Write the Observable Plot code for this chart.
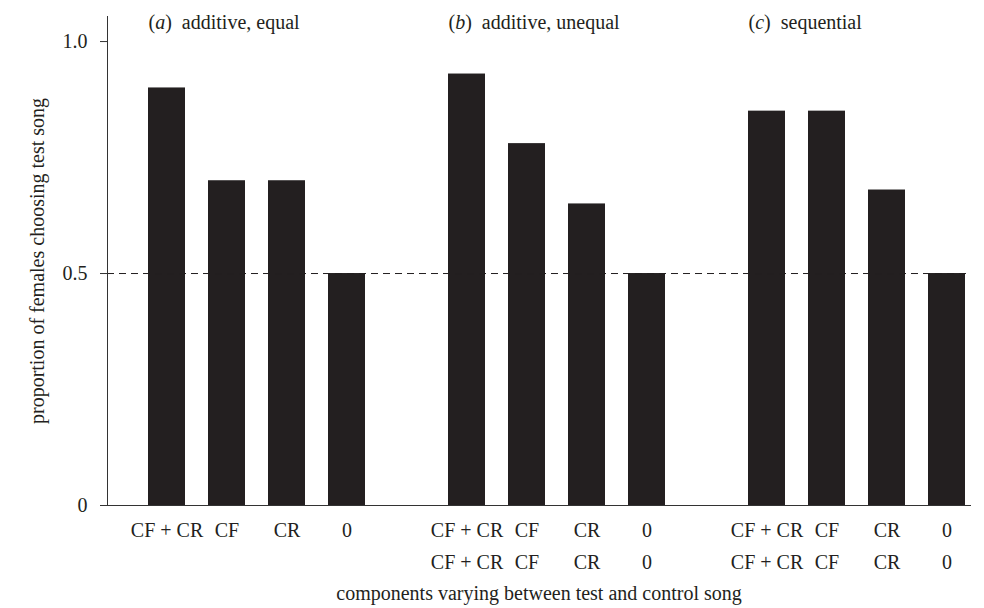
<!DOCTYPE html>
<html>
<head>
<meta charset="utf-8">
<script src="https://cdn.jsdelivr.net/npm/d3@7"></script>
<script src="https://cdn.jsdelivr.net/npm/@observablehq/plot@0.6"></script>
<style>
  html, body { margin: 0; padding: 0; background: #fff; }
</style>
</head>
<body>
<div id="chart"></div>
<script>
// ---- data ----
const groups = ["a", "b", "c"];
const groupTitles = ["additive, equal", "additive, unequal", "sequential"];
const components = ["CF + CR", "CF", "CR", "0"];
const valuesA = [0.90, 0.70, 0.70, 0.50];
const valuesB = [0.93, 0.78, 0.65, 0.50];
const valuesC = [0.85, 0.85, 0.68, 0.50];
const yTicks = [0, 0.5, 1.0];
const yLabel = "proportion of females choosing test song";
const xLabel = "components varying between test and control song";

// ---- build tables ----
const groupValues = [valuesA, valuesB, valuesC];
const slots = [];
const bars = [];
groups.forEach((g, gi) => {
  if (gi > 0) slots.push("gap" + gi);
  components.forEach((c, ci) => {
    const slot = g + "|" + c;
    slots.push(slot);
    bars.push({slot, group: g, comp: c, value: groupValues[gi][ci]});
  });
});
const titleRows = groups.map((g, gi) => ({slot: g + "|" + components[0], letter: g, name: groupTitles[gi]}));

const ink = "#231f20";
const fs = 20;

const chart = Plot.plot({
  width: 984,
  height: 608,
  marginLeft: 107,
  marginRight: 14,
  marginTop: 16,
  marginBottom: 103,
  style: {fontFamily: "'Liberation Serif', 'DejaVu Serif', serif", fontSize: "20px", color: ink, background: "#fff"},
  x: {type: "band", domain: slots, range: [148, 965], paddingInner: 23 / 60, paddingOuter: 0, axis: null},
  y: {domain: [0, 1.054], axis: null},
  marks: [
    Plot.barY(bars, {x: "slot", y: "value", fill: ink}),
    Plot.ruleY([0.5], {stroke: ink, strokeWidth: 1, strokeDasharray: "7,5"}),
    Plot.frame({anchor: "left", stroke: "#333"}),
    Plot.frame({anchor: "bottom", stroke: "#333"}),
    Plot.axisY({
      ticks: yTicks,
      tickFormat: d => d === 0 ? "0" : d3.format(".1f")(d),
      tickSize: 7,
      tickPadding: 13,
      fontSize: fs,
      label: null,
      stroke: "#333"
    }),
    Plot.text(bars, {x: "slot", text: "comp", frameAnchor: "bottom", lineAnchor: "middle", dy: 25, fontSize: fs, fill: ink}),
    Plot.text(bars.filter(d => d.group !== "a"), {x: "slot", text: "comp", frameAnchor: "bottom", lineAnchor: "middle", dy: 57, fontSize: fs, fill: ink}),
    Plot.text(titleRows, {
      x: "slot",
      text: d => "(" + d.letter + ")\u2002" + d.name,
      frameAnchor: "top",
      textAnchor: "start",
      lineAnchor: "middle",
      dx: -18.5,
      dy: 6,
      fontSize: fs,
      fill: ink,
      className: "panel-title"
    }),
    Plot.text([yLabel], {frameAnchor: "left", textAnchor: "middle", lineAnchor: "middle", rotate: -90, dx: -70, fontSize: fs, fill: ink}),
    Plot.text([xLabel], {frameAnchor: "bottom", lineAnchor: "middle", dy: 88, fontSize: fs, fill: ink})
  ]
});

// italic panel letters
d3.select(chart).selectAll(".panel-title text").each(function (_, i) {
  const row = titleRows[i];
  const t = d3.select(this);
  t.text(null);
  t.append("tspan").text("(");
  t.append("tspan").attr("font-style", "italic").text(row.letter);
  t.append("tspan").text(")\u2002" + row.name);
});

document.getElementById("chart").appendChild(chart);
</script>
</body>
</html>
